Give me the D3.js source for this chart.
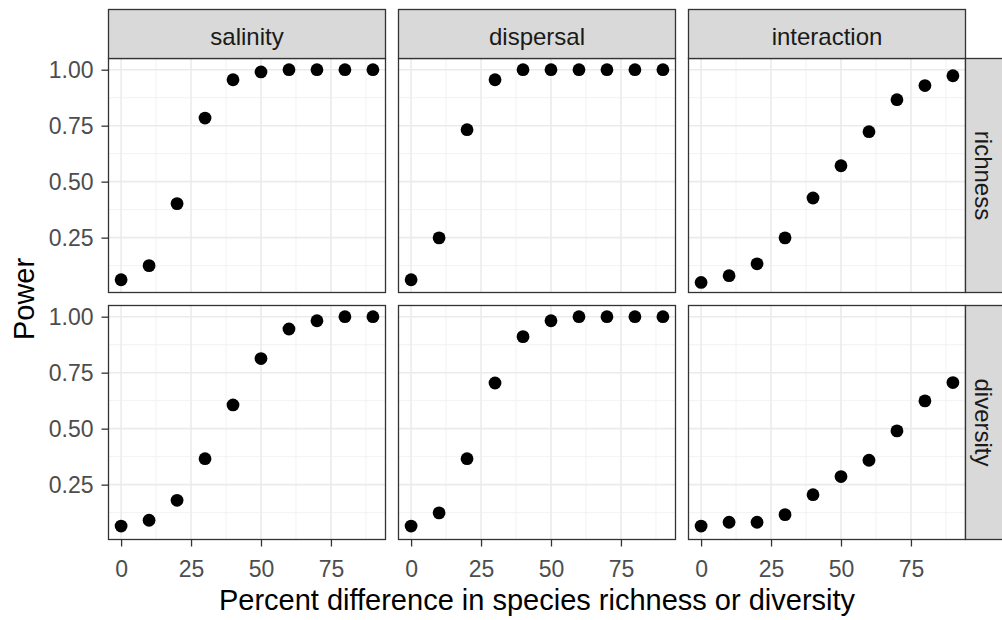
<!DOCTYPE html>
<html>
<head>
<meta charset="utf-8">
<script src="https://cdn.jsdelivr.net/npm/d3@7"></script>
<style>
  html, body { margin: 0; padding: 0; background: #fff; }
  svg { display: block; font-family: "Liberation Sans", Arial, sans-serif; }
</style>
</head>
<body>
<svg id="chart" width="1002" height="620"></svg>
<script>
// ---- data ----
const xValues = [0, 10, 20, 30, 40, 50, 60, 70, 80, 90];
const colFacets = ["salinity", "dispersal", "interaction"];
const rowFacets = ["richness", "diversity"];
const xTicks = [0, 25, 50, 75];
const yTicks = [0.25, 0.50, 0.75, 1.00];

const salinityRichness    = [0.062, 0.125, 0.402, 0.784, 0.955, 0.990, 1.000, 1.000, 1.000, 1.000];
const dispersalRichness   = [0.062, 0.249, 0.732, 0.955, 1.000, 1.000, 1.000, 1.000, 1.000, 1.000];
const interactionRichness = [0.050, 0.080, 0.133, 0.249, 0.427, 0.571, 0.723, 0.866, 0.929, 0.973];
const salinityDiversity    = [0.065, 0.091, 0.180, 0.366, 0.606, 0.813, 0.945, 0.982, 1.000, 1.000];
const dispersalDiversity   = [0.065, 0.124, 0.366, 0.704, 0.911, 0.982, 1.000, 1.000, 1.000, 1.000];
const interactionDiversity = [0.065, 0.082, 0.082, 0.116, 0.205, 0.286, 0.359, 0.490, 0.624, 0.706];

const panelValues = {
  "richness":  { "salinity": salinityRichness,  "dispersal": dispersalRichness,  "interaction": interactionRichness },
  "diversity": { "salinity": salinityDiversity, "dispersal": dispersalDiversity, "interaction": interactionDiversity }
};

// ---- layout ----
const svg = d3.select("#chart");
const panelW = 277, panelH = 234, gap = 13;
const left0 = 108.5, top0 = 58.5;
const stripH = 49, stripW = 49;
const tickFont = 23, stripFont = 24, titleFont = 29;

const x = d3.scaleLinear().domain([-4.5, 94.5]).range([0, panelW]);
const y = d3.scaleLinear().domain([0.005, 1.05]).range([panelH, 0]);

const xMinor = [12.5, 37.5, 62.5, 87.5];
const yMinor = [0.125, 0.375, 0.625, 0.875];

rowFacets.forEach((rf, ri) => {
  colFacets.forEach((cf, ci) => {
    const px = left0 + ci * (panelW + gap);
    const py = top0 + ri * (panelH + gap);
    const g = svg.append("g").attr("transform", `translate(${px},${py})`);

    g.append("rect").attr("width", panelW).attr("height", panelH).attr("fill", "#fff");

    // minor grid
    g.selectAll(".xmin").data(xMinor).join("line")
      .attr("x1", d => x(d)).attr("x2", d => x(d)).attr("y1", 0).attr("y2", panelH)
      .attr("stroke", "#F0F0F0").attr("stroke-width", 0.9);
    g.selectAll(".ymin").data(yMinor).join("line")
      .attr("y1", d => y(d)).attr("y2", d => y(d)).attr("x1", 0).attr("x2", panelW)
      .attr("stroke", "#F0F0F0").attr("stroke-width", 0.9);
    // major grid
    g.selectAll(".xmaj").data(xTicks).join("line")
      .attr("x1", d => x(d)).attr("x2", d => x(d)).attr("y1", 0).attr("y2", panelH)
      .attr("stroke", "#EBEBEB").attr("stroke-width", 1.6);
    g.selectAll(".ymaj").data(yTicks).join("line")
      .attr("y1", d => y(d)).attr("y2", d => y(d)).attr("x1", 0).attr("x2", panelW)
      .attr("stroke", "#EBEBEB").attr("stroke-width", 1.6);

    // points
    const vals = panelValues[rf][cf];
    g.selectAll("circle").data(xValues.map((xv, i) => [xv, vals[i]])).join("circle")
      .attr("cx", d => x(d[0])).attr("cy", d => y(d[1])).attr("r", 6.4).attr("fill", "#000");

    // border
    g.append("rect").attr("width", panelW).attr("height", panelH)
      .attr("fill", "none").attr("stroke", "#333333").attr("stroke-width", 1.3);

    // axes
    if (ci === 0) {
      const ax = g.append("g").call(d3.axisLeft(y).tickValues(yTicks).tickFormat(d3.format(".2f")).tickSize(7).tickPadding(8));
      ax.select(".domain").remove();
      ax.selectAll("line").attr("stroke", "#333333").attr("stroke-width", 1.3);
      ax.selectAll("text").attr("fill", "#4D4D4D").style("font-size", tickFont + "px")
        .style("font-family", '"Liberation Sans", Arial, sans-serif');
    }
    if (ri === rowFacets.length - 1) {
      const ax = g.append("g").attr("transform", `translate(0,${panelH})`)
        .call(d3.axisBottom(x).tickValues(xTicks).tickFormat(d3.format("d")).tickSize(7).tickPadding(14));
      ax.select(".domain").remove();
      ax.selectAll("line").attr("stroke", "#333333").attr("stroke-width", 1.3);
      ax.selectAll("text").attr("fill", "#4D4D4D").style("font-size", tickFont + "px")
        .style("font-family", '"Liberation Sans", Arial, sans-serif');
    }

    // top strips
    if (ri === 0) {
      const s = svg.append("g").attr("transform", `translate(${px},${top0 - stripH})`);
      s.append("rect").attr("width", panelW).attr("height", stripH)
        .attr("fill", "#D9D9D9").attr("stroke", "#333333").attr("stroke-width", 1.3);
      s.append("text").attr("x", panelW / 2).attr("y", 35.5).attr("text-anchor", "middle")
        .attr("fill", "#1A1A1A").style("font-size", stripFont + "px").text(cf);
    }
    // right strips
    if (ci === colFacets.length - 1) {
      const sx = px + panelW;
      const s = svg.append("g").attr("transform", `translate(${sx},${py})`);
      s.append("rect").attr("width", stripW).attr("height", panelH)
        .attr("fill", "#D9D9D9").attr("stroke", "#333333").attr("stroke-width", 1.3);
      s.append("text").attr("transform", `translate(9,${panelH / 2}) rotate(90)`)
        .attr("text-anchor", "middle").attr("fill", "#1A1A1A")
        .style("font-size", stripFont + "px").text(rf);
    }
  });
});

// axis titles
const totalW = colFacets.length * panelW + (colFacets.length - 1) * gap;
const totalH = rowFacets.length * panelH + (rowFacets.length - 1) * gap;
svg.append("text").attr("x", left0 + totalW / 2).attr("y", 610)
  .attr("text-anchor", "middle").attr("fill", "#000").style("font-size", titleFont + "px")
  .text("Percent difference in species richness or diversity");
svg.append("text").attr("transform", `translate(33.5,${top0 + totalH / 2}) rotate(-90)`)
  .attr("text-anchor", "middle").attr("fill", "#000").style("font-size", titleFont + "px")
  .text("Power");
</script>
</body>
</html>
